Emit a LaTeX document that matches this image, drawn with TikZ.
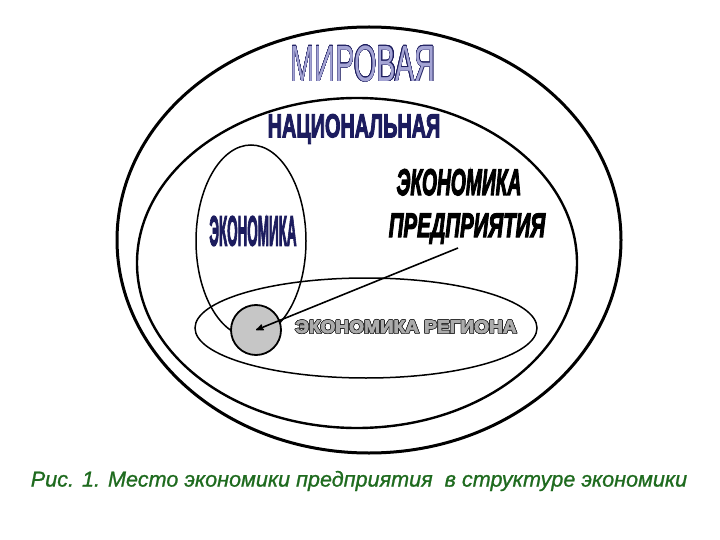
\documentclass[tikz,border=0pt]{standalone}
\usepackage{fontspec}
\setmainfont{Liberation Sans}
\newfontfamily\heavyfont[BoldFeatures={FakeBold=4}, BoldItalicFeatures={FakeBold=4}]{Liberation Sans}
\newfontfamily\captionfont[ItalicFeatures={FakeBold=1}]{Liberation Sans}
\usepackage{contour}
\usetikzlibrary{positioning, arrows}
\contourlength{0.6pt}
\definecolor{navyink}{HTML}{1C1C5E}
\definecolor{lavender}{HTML}{A4A4D4}
\definecolor{regiongray}{HTML}{ABABAB}
\definecolor{captiongreen}{HTML}{1F6B1F}
\tikzset{
every node/.style={inner sep=0pt}, % labels sit tight on their coordinates
ring/.style={draw=black, line width=#1}, % the nested economies
word/.style={font=\heavyfont\bfseries\fontsize{#1}{#1}\selectfont}, % condensed caps
slanted word/.style={font=\heavyfont\bfseries\itshape\fontsize{#1}{#1}\selectfont, anchor=base},
firm/.style={circle, draw=black, line width=1.8pt, fill=gray!45, minimum size=50pt},
}

\begin{document}
\begin{tikzpicture}[x=1pt, y=-1pt]
            \useasboundingbox (0,0) rectangle (720,540);
            % world, nation, region
            \draw[ring=3pt] (369,240) ellipse (252 and 213);
            \draw[ring=2.4pt] (357,263) ellipse (220 and 165);
            \draw[ring=1.5pt] (366,328) ellipse (171 and 50);
            \draw[ring=1.5pt] (251,241) ellipse (55 and 96);
            \node[firm] (predpr) at (256,330) {};

            \node (mir) at (363,64) {\fontsize{51}{51}\selectfont\scalebox{0.57}[1]{\contour{navyink}{\color{lavender}МИРОВАЯ}}};
            \node[word=33, text=navyink] (nats) at (354,129) {\scalebox{0.6}[1]{НАЦИОНАЛЬНАЯ}};
            \node[word=42, text=navyink] (ekon) at (253,231) {\scalebox{0.32}[1]{ЭКОНОМИКА}};
            \node[slanted word=37] (ekpr) at (459,195) {\scalebox{0.52}[1]{ЭКОНОМИКА}};
            \node[slanted word=34] (pred) at (467,237) {\scalebox{0.6}[1]{ПРЕДПРИЯТИЯ}};
            \node[word=18] (reg) at (406,327) {\scalebox{1.06}[1]{\contour{black!85}{\color{regiongray}ЭКОНОМИКА РЕГИОНА}}};

            \coordinate (tail) at (458,248);
            \draw[-stealth', line width=1.6pt] (tail) -- (predpr.center);

            \node[text=captiongreen, font=\captionfont\itshape\fontsize{21.6}{21.6}\selectfont] (caption) at (359,481) {Рис. 1. Место экономики предприятия \ в структуре экономики};
        \end{tikzpicture}
\end{document}
